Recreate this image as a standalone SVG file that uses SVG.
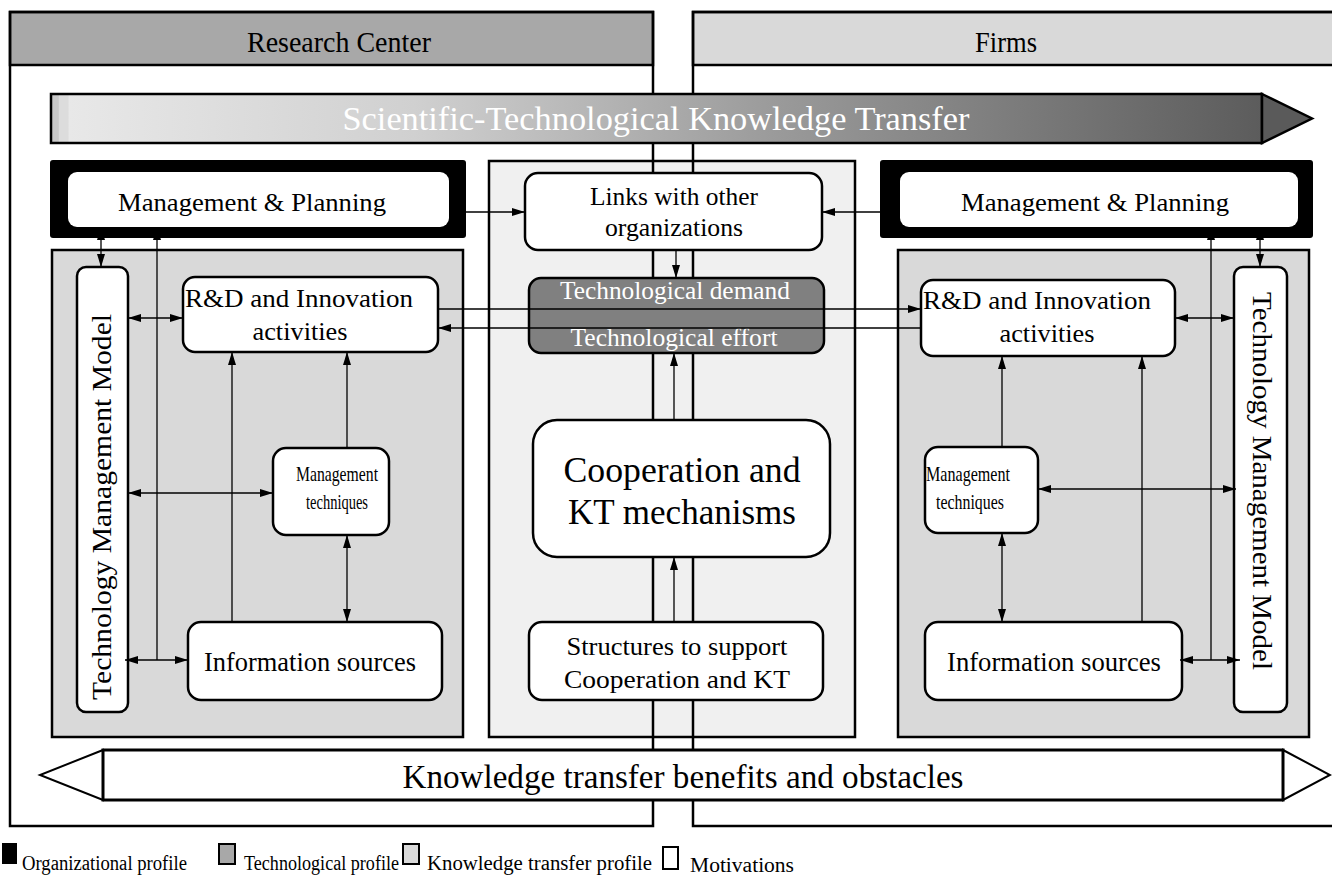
<svg xmlns="http://www.w3.org/2000/svg" width="1332" height="880" viewBox="0 0 1332 880">
<defs>
<linearGradient id="gTop" x1="0" y1="0" x2="1" y2="0">
<stop offset="0" stop-color="#c8c8c8"/>
<stop offset="0.006" stop-color="#c8c8c8"/>
<stop offset="0.007" stop-color="#dcdcdc"/>
<stop offset="0.014" stop-color="#dcdcdc"/>
<stop offset="0.015" stop-color="#e8e8e8"/>
<stop offset="0.3" stop-color="#d0d0d0"/>
<stop offset="0.6" stop-color="#9a9a9a"/>
<stop offset="1" stop-color="#5c5c5c"/>
</linearGradient>
<marker id="ah" markerWidth="13" markerHeight="8" refX="13" refY="4" orient="auto-start-reverse" markerUnits="userSpaceOnUse">
<path d="M0,0 L13,4 L0,8 z" fill="#000"/>
</marker>
</defs>
<style>
text{font-family:"Liberation Serif","Times New Roman",serif;fill:#000}
.box{fill:#fff;stroke:#000;stroke-width:2.5}
.panel{stroke:#000;stroke-width:2.5}
.ln{fill:none;stroke:#000;stroke-width:1.3}
.a1{marker-end:url(#ah)}
.a2{marker-start:url(#ah);marker-end:url(#ah)}
.wt{fill:#fff}
.lg{font-size:20px}
</style>

<!-- frames (fills) -->
<g id="frame-left-fill">
<rect x="10" y="12" width="643" height="814" fill="#fff"/>
<rect x="10" y="12" width="643" height="53" fill="#a8a8a8" stroke="#000" stroke-width="2.5"/>
<text x="339" y="52" font-size="29" text-anchor="middle" textLength="184" lengthAdjust="spacingAndGlyphs">Research Center</text>
</g>
<g id="frame-right-fill">
<rect x="693" y="12" width="660" height="814" fill="#fff"/>
<rect x="693" y="12" width="660" height="53" fill="#d9d9d9" stroke="#000" stroke-width="2.5"/>
<text x="1006" y="52" font-size="29" text-anchor="middle" textLength="62" lengthAdjust="spacingAndGlyphs">Firms</text>
</g>

<!-- center panel -->
<g id="center-panel">
<rect class="panel" x="489" y="161" width="366" height="576" fill="#f0f0f0"/>
</g>

<!-- frame outlines -->
<g id="frame-outlines" fill="none" stroke="#000" stroke-width="2.5">
<rect x="10" y="12" width="643" height="814"/>
<rect x="693" y="12" width="660" height="814"/>
</g>

<!-- top arrow -->
<g id="top-arrow">
<rect x="51" y="94" width="1211" height="49" fill="url(#gTop)" stroke="#000" stroke-width="2.5"/>
<polygon points="1262,94 1312,118.5 1262,143" fill="#5a5a5a" stroke="#000" stroke-width="2.5"/>
<text x="656" y="130" font-size="34" class="wt" text-anchor="middle" textLength="627" lengthAdjust="spacingAndGlyphs">Scientific-Technological Knowledge Transfer</text>
</g>

<!-- left side -->
<g id="left-mp">
<rect x="50" y="160" width="416" height="78" rx="3" fill="#000"/>
<rect x="68" y="172" width="381" height="55" rx="9" fill="#fff"/>
<text x="252" y="211" font-size="26" text-anchor="middle" textLength="268" lengthAdjust="spacingAndGlyphs">Management &amp; Planning</text>
</g>
<g id="left-panel">
<rect class="panel" x="52" y="250" width="411" height="487" fill="#d9d9d9"/>
</g>
<g id="left-tmm">
<rect class="box" x="77" y="267" width="51" height="445" rx="9"/>
<text transform="translate(111,507) rotate(-90)" font-size="27" text-anchor="middle" textLength="386" lengthAdjust="spacingAndGlyphs">Technology  Management Model</text>
</g>
<g id="left-rd">
<rect class="box" x="183" y="277" width="255" height="75" rx="12"/>
<text x="299" y="307" font-size="26" text-anchor="middle" textLength="228" lengthAdjust="spacingAndGlyphs">R&amp;D and Innovation</text>
<text x="300" y="340" font-size="26" text-anchor="middle" textLength="95" lengthAdjust="spacingAndGlyphs">activities</text>
</g>
<g id="left-mt">
<rect class="box" x="273" y="448" width="116" height="87" rx="13"/>
<text x="337" y="481" font-size="21" text-anchor="middle" textLength="82" lengthAdjust="spacingAndGlyphs">Management</text>
<text x="337" y="509" font-size="21" text-anchor="middle" textLength="62" lengthAdjust="spacingAndGlyphs">techniques</text>
</g>
<g id="left-is">
<rect class="box" x="188" y="622" width="254" height="78" rx="13"/>
<text x="310" y="671" font-size="27" text-anchor="middle" textLength="212" lengthAdjust="spacingAndGlyphs">Information sources</text>
</g>

<!-- center -->
<g id="links">
<rect class="box" x="525" y="173" width="297" height="77" rx="13"/>
<text x="674" y="205" font-size="25.5" text-anchor="middle" textLength="168" lengthAdjust="spacingAndGlyphs">Links with other</text>
<text x="674" y="236" font-size="25.5" text-anchor="middle" textLength="138" lengthAdjust="spacingAndGlyphs">organizations</text>
</g>
<g id="tech">
<rect x="529" y="278" width="295" height="75" rx="12" fill="#808080" stroke="#000" stroke-width="2.5"/>
<text x="675" y="299" font-size="25" class="wt" text-anchor="middle" textLength="230" lengthAdjust="spacingAndGlyphs">Technological demand</text>
<text x="674" y="346" font-size="25" class="wt" text-anchor="middle" textLength="207" lengthAdjust="spacingAndGlyphs">Technological effort</text>
</g>
<g id="coop">
<rect class="box" x="533" y="420" width="297" height="137" rx="24"/>
<text x="682" y="482" font-size="35" text-anchor="middle" textLength="237" lengthAdjust="spacingAndGlyphs">Cooperation and</text>
<text x="682" y="524" font-size="35" text-anchor="middle" textLength="228" lengthAdjust="spacingAndGlyphs">KT mechanisms</text>
</g>
<g id="structures">
<rect class="box" x="529" y="622" width="294" height="78" rx="13"/>
<text x="677" y="655" font-size="26" text-anchor="middle" textLength="221" lengthAdjust="spacingAndGlyphs">Structures to support</text>
<text x="677" y="688" font-size="26" text-anchor="middle" textLength="226" lengthAdjust="spacingAndGlyphs">Cooperation  and KT</text>
</g>

<!-- right side -->
<g id="right-mp">
<rect x="880" y="160" width="433" height="78" rx="3" fill="#000"/>
<rect x="900" y="172" width="398" height="55" rx="9" fill="#fff"/>
<text x="1095" y="211" font-size="26" text-anchor="middle" textLength="268" lengthAdjust="spacingAndGlyphs">Management &amp; Planning</text>
</g>
<g id="right-panel">
<rect class="panel" x="898" y="250" width="411" height="487" fill="#d9d9d9"/>
</g>
<g id="right-tmm">
<rect class="box" x="1234" y="267" width="53" height="445" rx="9"/>
<text transform="translate(1253,481) rotate(90)" font-size="27" text-anchor="middle" textLength="378" lengthAdjust="spacingAndGlyphs">Technology  Management Model</text>
</g>
<g id="right-rd">
<rect class="box" x="921" y="280" width="254" height="76" rx="12"/>
<text x="1037" y="309" font-size="26" text-anchor="middle" textLength="228" lengthAdjust="spacingAndGlyphs">R&amp;D and Innovation</text>
<text x="1047" y="342" font-size="26" text-anchor="middle" textLength="95" lengthAdjust="spacingAndGlyphs">activities</text>
</g>
<g id="right-mt">
<rect class="box" x="925" y="447" width="113" height="86" rx="13"/>
<text x="968" y="481" font-size="21" text-anchor="middle" textLength="84" lengthAdjust="spacingAndGlyphs">Management</text>
<text x="970" y="509" font-size="21" text-anchor="middle" textLength="68" lengthAdjust="spacingAndGlyphs">techniques</text>
</g>
<g id="right-is">
<rect class="box" x="925" y="622" width="257" height="78" rx="13"/>
<text x="1054" y="671" font-size="27" text-anchor="middle" textLength="214" lengthAdjust="spacingAndGlyphs">Information sources</text>
</g>

<!-- connectors -->
<g id="connectors">
<line class="ln a2" x1="101" y1="227" x2="101" y2="267"/>
<line class="ln a1" x1="157" y1="660" x2="157" y2="227"/>
<line class="ln a2" x1="128" y1="318" x2="183" y2="318"/>
<line class="ln a2" x1="128" y1="493" x2="273" y2="493"/>
<line class="ln a2" x1="125" y1="660" x2="188" y2="660"/>
<line class="ln a1" x1="232" y1="622" x2="232" y2="352"/>
<line class="ln a1" x1="347" y1="448" x2="347" y2="352"/>
<line class="ln a2" x1="347" y1="535" x2="347" y2="622"/>

<line class="ln a1" x1="449" y1="212" x2="525" y2="212"/>
<line class="ln a1" x1="900" y1="212" x2="822" y2="212"/>
<line class="ln a1" x1="676" y1="250" x2="676" y2="278"/>
<line class="ln a1" x1="674" y1="420" x2="674" y2="353"/>
<line class="ln a1" x1="674" y1="622" x2="674" y2="557"/>
<line class="ln a1" x1="438" y1="309" x2="921" y2="309"/>
<line class="ln a1" x1="921" y1="328" x2="438" y2="328"/>

<line class="ln a2" x1="1260" y1="227" x2="1260" y2="267"/>
<line class="ln a1" x1="1211" y1="660" x2="1211" y2="227"/>
<line class="ln a2" x1="1175" y1="318" x2="1234" y2="318"/>
<line class="ln a2" x1="1038" y1="489" x2="1236" y2="489"/>
<line class="ln a2" x1="1180" y1="660" x2="1240" y2="660"/>
<line class="ln a1" x1="1002" y1="447" x2="1002" y2="356"/>
<line class="ln a1" x1="1142" y1="622" x2="1142" y2="356"/>
<line class="ln a2" x1="1002" y1="533" x2="1002" y2="622"/>
</g>

<!-- bottom arrow -->
<g id="bottom-arrow">
<polygon points="103,750 40,775 103,800" fill="#fff" stroke="#000" stroke-width="2"/>
<polygon points="1283,750 1330,775 1283,800" fill="#fff" stroke="#000" stroke-width="2"/>
<rect x="103" y="750" width="1180" height="50" fill="#fff" stroke="#000" stroke-width="3"/>
<text x="683" y="788" font-size="33" text-anchor="middle" textLength="561" lengthAdjust="spacingAndGlyphs">Knowledge transfer benefits and obstacles</text>
</g>

<!-- legend -->
<g id="legend">
<rect x="2" y="843" width="15" height="21" fill="#000"/>
<text class="lg" x="22" y="870" textLength="165" lengthAdjust="spacingAndGlyphs">Organizational profile</text>
<rect x="219" y="844" width="16" height="20" fill="#a8a8a8" stroke="#000" stroke-width="2"/>
<text class="lg" x="244" y="870" textLength="155" lengthAdjust="spacingAndGlyphs">Technological  profile</text>
<rect x="403" y="844" width="16" height="20" fill="#d9d9d9" stroke="#000" stroke-width="2"/>
<text class="lg" x="427" y="870" textLength="225" lengthAdjust="spacingAndGlyphs">Knowledge transfer profile</text>
<rect x="663" y="847" width="15" height="22" fill="#fff" stroke="#000" stroke-width="2"/>
<text class="lg" x="690" y="872" textLength="104" lengthAdjust="spacingAndGlyphs">Motivations</text>
</g>
</svg>
